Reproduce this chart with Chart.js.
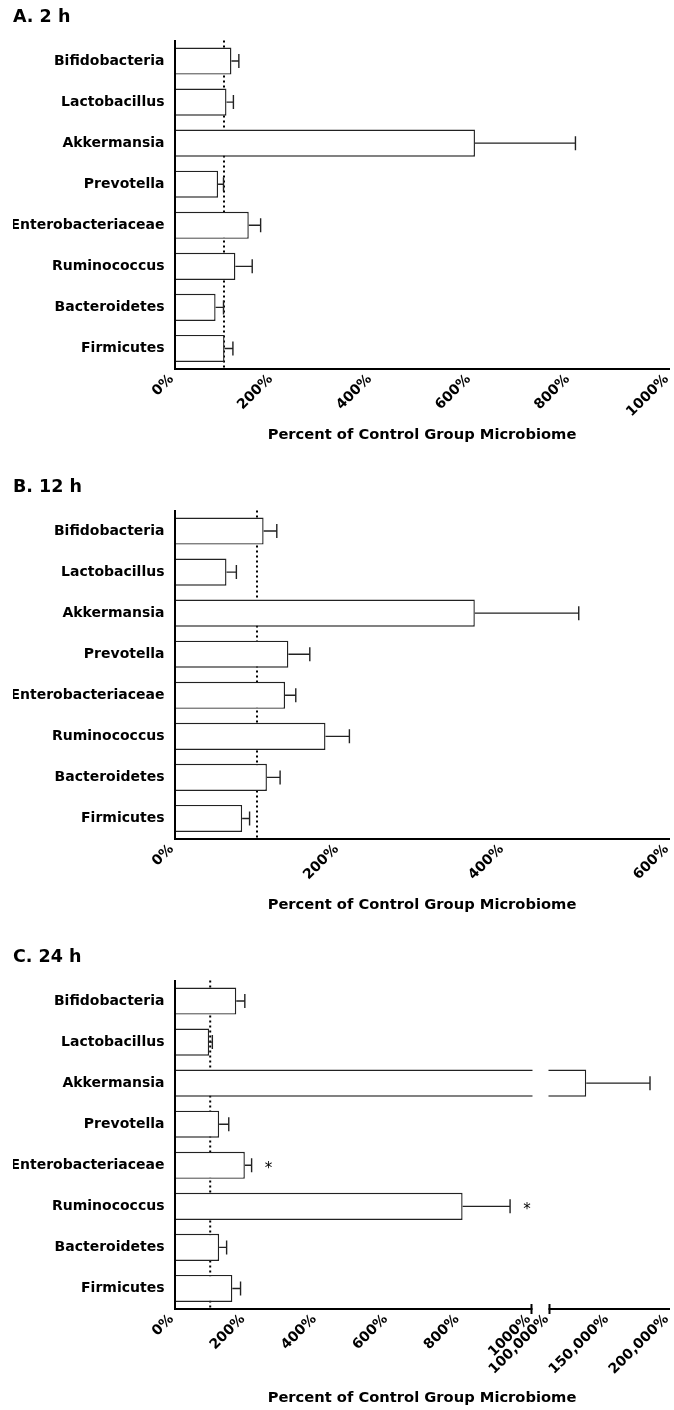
<!DOCTYPE html>
<html>
<head>
<meta charset="utf-8">
<title>Percent of Control Group Microbiome</title>
<script src="https://cdn.jsdelivr.net/npm/chart.js@4.4.1/dist/chart.umd.min.js"></script>
<style>
  html, body { margin: 0; padding: 0; background: #fff; }
  body { width: 674px; height: 1410px; position: relative; overflow: hidden; }
  canvas { position: absolute; left: 0; display: block; }
</style>
</head>
<body>
<canvas id="chart-a" width="674" height="470" style="top:0"></canvas>
<canvas id="chart-b" width="674" height="470" style="top:470px"></canvas>
<canvas id="chart-c" width="674" height="470" style="top:940px"></canvas>

<script>
/* ===================================================
   MICROBIOME PANELS (2 h / 12 h / 24 h)
   =================================================== */

// ── DATA ──────────────────────────────────────────
const categories = [
  'Bifidobacteria', 'Lactobacillus', 'Akkermansia', 'Prevotella',
  'Enterobacteriaceae', 'Ruminococcus', 'Bacteroidetes', 'Firmicutes',
];

// A. 2 h
const meanA = [115, 105, 607, 88, 150, 123, 83, 101];
const errA  = [15, 14, 203, 11, 24, 34, 16, 17];

// B. 12 h
const meanB = [108, 63, 364, 138, 134, 183, 112, 82];
const errB  = [16, 12, 126, 26, 13, 29, 16, 9];

// C. 24 h
const meanC  = [173, 97, 130600, 125, 197, 807, 125, 162];
const errC   = [24, 9, 53150, 27, 19, 133, 21, 23];
const starsC = ['', '', '', '', '*', '*', '', ''];

const ticksA = [0, 200, 400, 600, 800, 1000];
const ticksB = [0, 200, 400, 600];
const ticksC = [0, 200, 400, 600, 800, 1000, 100000, 150000, 200000];

const controlLevel = 100;
const axisTitle = 'Percent of Control Group Microbiome';

// ── DEFAULTS ──────────────────────────────────────
const FONT = "'DejaVu Sans', 'Liberation Sans', sans-serif";
Chart.defaults.font.family = FONT;
Chart.defaults.color = '#000';

// ── BROKEN X AXIS (0–1000 | 100,000–200,000) ─────
class BrokenAxis extends Chart.LinearScale {
  buildTicks() {
    return this.options.breakTicks.map(value => ({ value }));
  }
  breakPixels() {
    const b = this.options.axisBreak;
    const split = this.left + (this.right - this.left) * b.at;
    return { split, resume: split + b.gap };
  }
  getPixelForValue(value) {
    if (value === null || isNaN(value)) return NaN;
    const b = this.options.axisBreak;
    const { split, resume } = this.breakPixels();
    if (value <= b.lowMax) {
      return this.left + (value - this.min) / (b.lowMax - this.min) * (split - this.left);
    }
    if (value < b.highMin) {
      return split + (value - b.lowMax) / (b.highMin - b.lowMax) * (resume - split);
    }
    return resume + (value - b.highMin) / (this.max - b.highMin) * (this.right - resume);
  }
}
BrokenAxis.id = 'brokenLinear';
Chart.register(BrokenAxis);

// ── MARKS: control line, error bars, stars, break ─
const panelMarks = {
  id: 'panelMarks',
  beforeDatasetsDraw(chart) {
    const { ctx, chartArea } = chart;
    const x = chart.scales.x.getPixelForValue(controlLevel);
    ctx.save();
    ctx.strokeStyle = '#000';
    ctx.lineWidth = 2;
    ctx.setLineDash([2, 3]);
    ctx.beginPath();
    ctx.moveTo(x, chartArea.top);
    ctx.lineTo(x, chartArea.bottom);
    ctx.stroke();
    ctx.restore();
  },
  afterDatasetsDraw(chart) {
    const { ctx } = chart;
    const xs = chart.scales.x;
    const ds = chart.data.datasets[0];
    const meta = chart.getDatasetMeta(0);
    ctx.save();
    ctx.strokeStyle = '#222';
    ctx.lineWidth = 1.4;
    meta.data.forEach((bar, i) => {
      const x0 = bar.x;
      const x1 = xs.getPixelForValue(ds.data[i] + ds.errors[i]);
      const y = bar.y;
      ctx.beginPath();
      ctx.moveTo(x0, y);
      ctx.lineTo(x1, y);
      ctx.moveTo(x1, y - 7);
      ctx.lineTo(x1, y + 7);
      ctx.stroke();

      const star = ds.marks && ds.marks[i];
      if (star) {
        ctx.fillStyle = '#000';
        ctx.font = '15px ' + FONT;
        ctx.textAlign = 'center';
        ctx.textBaseline = 'middle';
        ctx.fillText(star, x1 + 17, y + 4);
      }
    });
    ctx.restore();
  },
  // axis break: white gap through bars and axis line, end caps
  afterDraw(chart) {
    const xs = chart.scales.x;
    if (!xs.breakPixels) return;
    const { ctx, chartArea } = chart;
    const { split, resume } = xs.breakPixels();
    ctx.save();
    ctx.fillStyle = '#fff';
    ctx.fillRect(split + 1, chartArea.top - 2, resume - split - 2, chartArea.bottom - chartArea.top + 3.5);
    ctx.strokeStyle = '#000';
    ctx.lineWidth = 2;
    [split, resume].forEach(px => {
      ctx.beginPath();
      ctx.moveTo(px, chartArea.bottom - 5);
      ctx.lineTo(px, chartArea.bottom + 5);
      ctx.stroke();
    });
    ctx.restore();
  },
};

// ── PANEL FACTORY ─────────────────────────────────
function makePanel(canvasId, title, means, errors, marks, xScale, tickLabel, xHeight) {
  const ctx = document.getElementById(canvasId).getContext('2d');
  return new Chart(ctx, {
    type: 'bar',
    data: {
      labels: categories,
      datasets: [{
        data: means,
        errors,
        marks,
        backgroundColor: '#fff',
        borderColor: '#222',
        borderWidth: 1.4,
        barPercentage: 0.66,
        categoryPercentage: 1,
      }],
    },
    options: {
      indexAxis: 'y',
      responsive: false,
      animation: false,
      events: [],
      layout: { padding: { top: 6.5, left: 13, right: 4.5, bottom: 470 - 369 - xHeight } },
      plugins: {
        legend: { display: false },
        tooltip: { enabled: false },
        title: {
          display: true,
          text: title,
          align: 'start',
          color: '#000',
          font: { size: 17.5, weight: 'bold' },
          padding: { top: 0, bottom: 13 },
        },
      },
      scales: {
        x: Object.assign({
          position: 'bottom',
          grid: { display: false, drawTicks: false },
          border: { display: true, color: '#000', width: 2, z: 1 },
          ticks: {
            autoSkip: false,
            minRotation: 45,
            maxRotation: 45,
            padding: 2,
            labelOffset: -3,
            color: '#000',
            font: { size: 14, weight: 'bold' },
            callback: tickLabel,
          },
          title: {
            display: true,
            text: axisTitle,
            color: '#000',
            font: { size: 14.7, weight: 'bold' },
            padding: 0,
          },
          afterFit(s) { s.height = xHeight; s.paddingLeft = 0; s.paddingRight = 0; },
        }, xScale),
        y: {
          grid: { display: false, drawTicks: false },
          border: { display: true, color: '#000', width: 2, z: 1 },
          ticks: { autoSkip: false, padding: 10, color: '#000', font: { size: 14, weight: 'bold' } },
          afterFit(s) { s.width = 161.5; },
        },
      },
    },
    plugins: [panelMarks],
  });
}

function fixedTicks(values) {
  return s => { s.ticks = values.map(v => ({ value: v })); };
}

const pct = v => v + '%';
const pctBig = v => (v >= 10000 ? v.toLocaleString('en-US') : String(v)) + '%';

// ── BOOT ──────────────────────────────────────────
makePanel('chart-a', 'A. 2 h', meanA, errA, null, {
  type: 'linear', min: 0, max: 1000,
  afterBuildTicks: fixedTicks(ticksA),
}, pct, 75);

makePanel('chart-b', 'B. 12 h', meanB, errB, null, {
  type: 'linear', min: 0, max: 600,
  afterBuildTicks: fixedTicks(ticksB),
}, pct, 75);

makePanel('chart-c', 'C. 24 h', meanC, errC, starsC, {
  type: 'brokenLinear', min: 0, max: 200000,
  breakTicks: ticksC,
  axisBreak: { at: 0.7212, gap: 18, lowMax: 1000, highMin: 100000 },
}, pctBig, 97.7);
</script>
</body>
</html>
